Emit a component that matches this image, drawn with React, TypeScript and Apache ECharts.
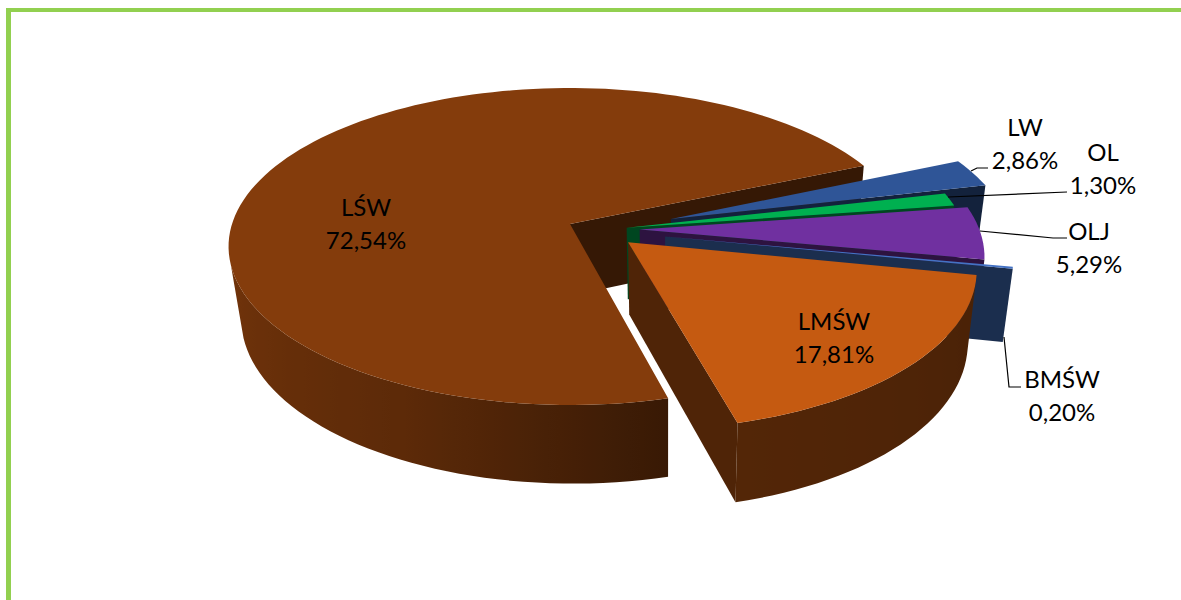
import React, { useEffect, useRef } from "react";
import * as echarts from "echarts";

const categories = ["LŚW", "LW", "OL", "OLJ", "BMŚW", "LMŚW"];
const shares = [72.54, 2.86, 1.3, 5.29, 0.2, 17.81];

const topColors = ["#843C0C", "#2F5597", "#00B050", "#7030A0", "#4472C4", "#C55A11"];
const explodeU = [0, 0.3, 0.167, 0.205, 0.278, 0.169];
const explodeV = [0, -0.032, 0.024, 0.036, 0.08, 0.116];
const labelCenters: [number, number][] = [
  [366, 223],
  [1025, 143],
  [1103, 168],
  [1089, 247],
  [1062, 395],
  [834, 337],
];
const leaders: number[][][] = [
  [[971, 171], [977, 168], [988, 168]],
  [[948, 197], [1067, 192]],
  [[980, 231], [1053, 238], [1067, 238]],
  [[1004, 337], [1009, 387], [1021, 387]],
];

const FONT = "Lato";
const START_DEG = 75.5;
const X0 = 570, Y0 = 224, A = 338, B = 155.3, K = 0.142;
const STEP = 2;

type P = [number, number];
const project = (u: number, v: number): P => {
  const w = 1 - K * v;
  return [X0 + (A * u) / w, Y0 + (B * v) / w];
};
const lower = (p: P): P => [667 + (p[0] - 667) * 0.971, p[1] + 73 + (p[1] - 265) * 0.04];
const area = (q: P[]) => {
  let s = 0;
  q.forEach((a, i) => {
    const b = q[(i + 1) % q.length];
    s += a[0] * b[1] - b[0] * a[1];
  });
  return s / 2;
};
const shadeStops: [number, number][] = [
  [-40, 0.38], [10, 0.37], [75, 0.42], [115, 0.7], [180, 0.9], [400, 0.9],
];
const shadeAt = (deg: number) => {
  for (let i = 1; i < shadeStops.length; i++) {
    const [a, fa] = shadeStops[i - 1];
    const [b, fb] = shadeStops[i];
    if (deg <= b) return fa + ((fb - fa) * (deg - a)) / (b - a);
  }
  return 0.9;
};
const darken = (hex: string, f: number) => {
  const n = parseInt(hex.slice(1), 16);
  const c = [(n >> 16) & 255, (n >> 8) & 255, n & 255].map((x) => Math.round(x * f));
  return `rgb(${c[0]},${c[1]},${c[2]})`;
};

const total = shares.reduce((a, b) => a + b, 0);
const startOf = (i: number) =>
  START_DEG + (shares.slice(0, i).reduce((a, b) => a + b, 0) / total) * 360;

const renderItem = (params: any, api: any) => {
  const i = params.dataIndex;
  const value = api.value(0);
  const s = startOf(i);
  const e = s + (value / total) * 360;
  const du = explodeU[i], dv = explodeV[i];
  const base = topColors[i];
  const rim = (deg: number): P => {
    const t = (deg * Math.PI) / 180;
    return project(Math.cos(t) + du, Math.sin(t) + dv);
  };
  const apex = project(du, dv);
  const n = Math.max(1, Math.ceil((e - s) / STEP));
  const degs = Array.from({ length: n + 1 }, (_, j) => s + ((e - s) * j) / n);
  const rimPts = degs.map(rim);
  const children: any[] = [];
  const poly = (pts: P[], color: any) => ({
    type: "polygon",
    shape: { points: pts },
    style: { fill: color },
    silent: true,
  });
  // outer wall: the front-facing run of the rim, shaded across x
  const visible: number[] = [];
  for (let j = 0; j <= n; j++) {
    const a = rimPts[Math.max(0, j - 1)];
    const b = rimPts[Math.min(n, j + 1)];
    const q: P[] = [a, b, lower(b), lower(a)];
    if (area(q) < 0) visible.push(j);
  }
  if (visible.length > 1) {
    const tops = visible.map((j) => rimPts[j]);
    const bottoms = tops.map(lower).reverse();
    const xs = [...tops, ...bottoms].map((p) => p[0]);
    const x0 = Math.min(...xs), x1 = Math.max(...xs);
    const stops = visible
      .map((j) => {
        const d = degs[j] > 360 ? degs[j] - 360 : degs[j];
        return {
          offset: Math.max(0, Math.min(1, (rimPts[j][0] - x0) / Math.max(1, x1 - x0))),
          color: darken(base, shadeAt(d)),
        };
      })
      .sort((a, b) => a.offset - b.offset);
    children.push(
      poly([...tops, ...bottoms], {
        type: "linear", x: x0, y: 0, x2: x1, y2: 0, global: true, colorStops: stops,
      })
    );
  }
  // radial cut walls
  const startWall: P[] = [apex, rimPts[0], lower(rimPts[0]), lower(apex)];
  const endWall: P[] = [apex, rimPts[n], lower(rimPts[n]), lower(apex)];
  if (area(startWall) < 0) children.push(poly(startWall, darken(base, 0.4)));
  if (area(endWall) > 0) children.push(poly(endWall, darken(base, 0.4)));
  // top face
  children.push(poly([apex, ...rimPts], base));
  return { type: "group", children };
};

export default function App() {
  const ref = useRef<HTMLDivElement>(null);
  useEffect(() => {
    const chart = echarts.init(ref.current!, null, { renderer: "svg" });
    const labels = categories.map((name, i) => ({
      type: "text",
      x: labelCenters[i][0],
      y: labelCenters[i][1],
      z: 30,
      style: {
        text: `${name}\n${shares[i].toFixed(2).replace(".", ",")}%`,
        font: `24px ${FONT}`,
        lineHeight: 33,
        fill: "#000000",
        align: "center",
        verticalAlign: "middle",
      },
    }));
    const lines = leaders.map((points) => ({
      type: "polyline",
      z: 20,
      shape: { points },
      style: { stroke: "#000000", lineWidth: 1.2, fill: "none" },
    }));
    chart.setOption({
      animation: false,
      backgroundColor: "#ffffff",
      series: [
        {
          type: "custom",
          coordinateSystem: "none",
          renderItem,
          silent: true,
          data: categories.map((name, i) => ({ name, value: shares[i] })),
        },
      ],
      graphic: [
        { type: "rect", z: 40, shape: { x: 6, y: 8, width: 5, height: 592 }, style: { fill: "#92D050" } },
        { type: "rect", z: 40, shape: { x: 6, y: 8, width: 1175, height: 4 }, style: { fill: "#92D050" } },
        ...lines,
        ...labels,
      ],
    });
    return () => chart.dispose();
  }, []);
  return (
    <div
      ref={ref}
      style={{ position: "fixed", left: 0, top: 0, width: 1181, height: 600 }}
    />
  );
}
